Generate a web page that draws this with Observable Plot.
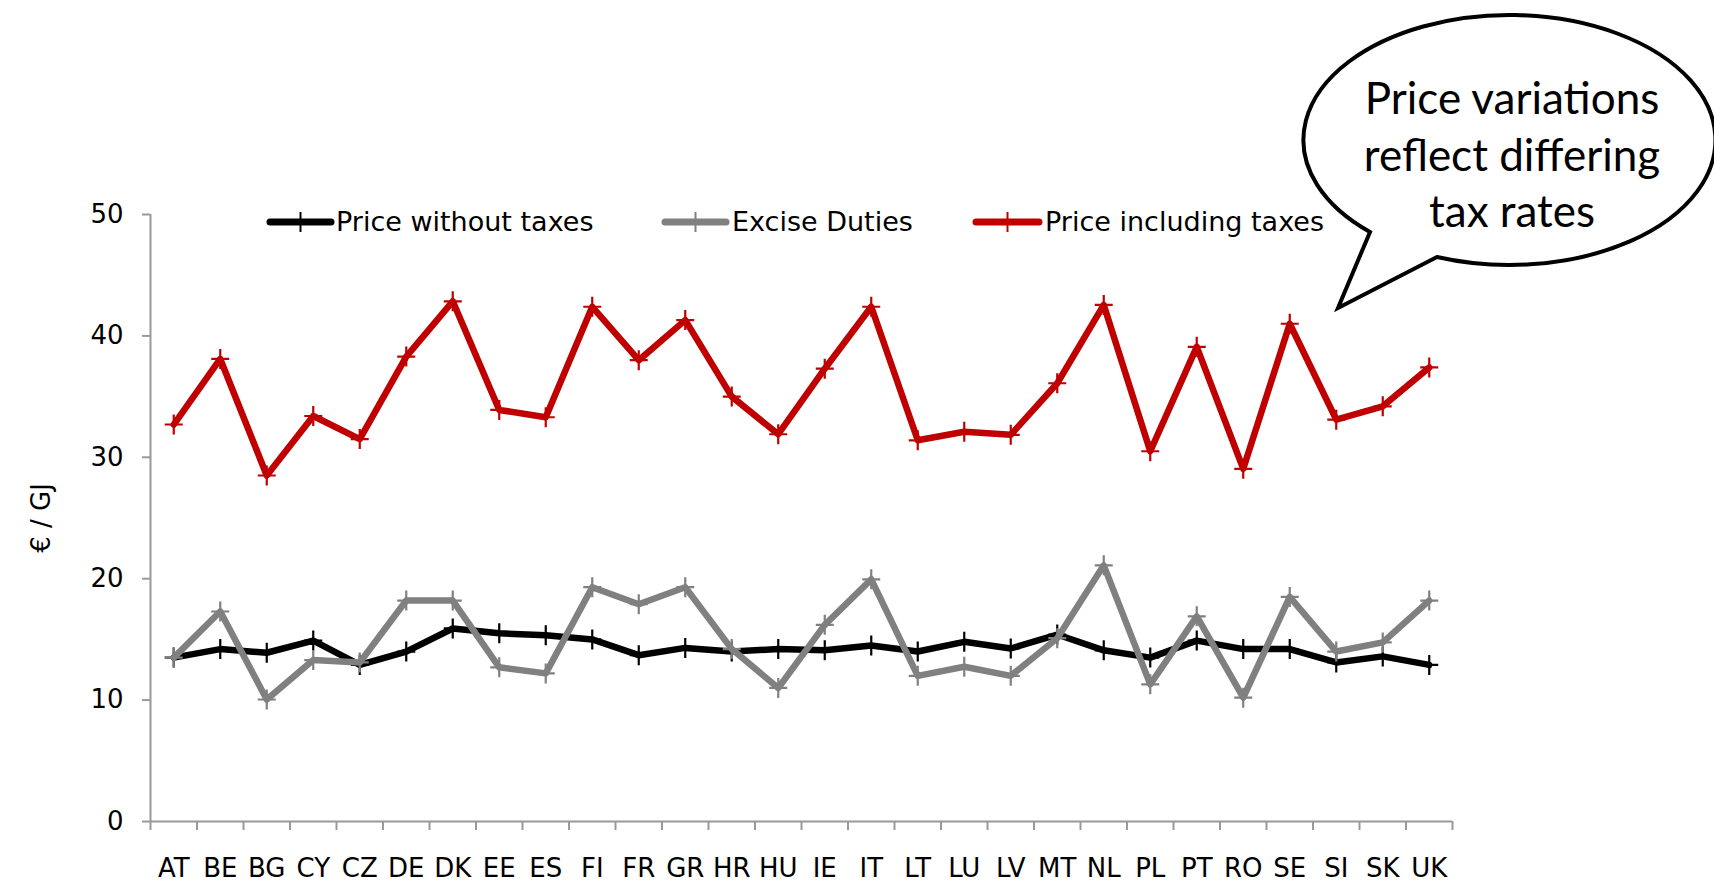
<!DOCTYPE html>
<html>
<head>
<meta charset="utf-8">
<script src="https://cdn.jsdelivr.net/npm/d3@7"></script>
<script src="https://cdn.jsdelivr.net/npm/@observablehq/plot@0.6"></script>
<style>
  html, body { margin: 0; padding: 0; background: #fff; }
  #chart { width: 1714px; height: 882px; overflow: hidden; }
</style>
</head>
<body>
<div id="chart"></div>
<script>
// ---- data ----
const countries = ["AT","BE","BG","CY","CZ","DE","DK","EE","ES","FI","FR","GR","HR","HU","IE","IT","LT","LU","LV","MT","NL","PL","PT","RO","SE","SI","SK","UK"];
const priceWithoutTaxes = [13.5,14.2,13.9,14.9,12.9,14.0,15.9,15.5,15.35,15.0,13.7,14.3,14.0,14.2,14.1,14.5,14.0,14.8,14.25,15.4,14.1,13.5,14.9,14.2,14.2,13.1,13.6,12.9];
const exciseDuties = [13.5,17.3,10.05,13.3,13.1,18.2,18.2,12.7,12.2,19.3,17.9,19.3,14.2,11.0,16.2,19.95,12.0,12.75,12.0,15.1,21.1,11.3,16.9,10.2,18.5,14.0,14.75,18.2];
const priceIncludingTaxes = [32.7,38.1,28.5,33.4,31.5,38.3,42.85,33.9,33.3,42.4,38.0,41.3,35.0,31.9,37.3,42.4,31.4,32.1,31.85,36.1,42.55,30.5,39.1,29.05,41.0,33.1,34.2,37.4];
const seriesNames = ["Price without taxes", "Excise Duties", "Price including taxes"];
const yTickValues = [0, 10, 20, 30, 40, 50];
const yLabel = "€ / GJ";
const bubbleLines = ["Price variations", "reflect differing", "tax rates"];

// ---- build table ----
const seriesValues = [priceWithoutTaxes, exciseDuties, priceIncludingTaxes];
const seriesColors = ["#000000", "#808080", "#C00000"];
const rows = seriesNames.flatMap((name, s) =>
  countries.map((c, i) => ({series: name, country: c, pos: i + 0.5, value: seriesValues[s][i]}))
);
const boundaries = d3.range(0, countries.length + 1);
const centers = countries.map((c, i) => i + 0.5);

const crossSymbol = {
  draw(ctx, size) {
    const r = Math.sqrt(size / Math.PI);
    ctx.moveTo(-r * 0.9, 0); ctx.lineTo(r * 0.9, 0);
    ctx.moveTo(0, -r); ctx.lineTo(0, r);
  }
};

const seriesMarks = seriesNames.flatMap((name, s) => {
  const data = rows.filter(d => d.series === name);
  return [
    Plot.line(data, {x: "pos", y: "value", stroke: seriesColors[s], strokeWidth: 6.5, strokeLinejoin: "round", strokeLinecap: "round"}),
    Plot.dot(data, {x: "pos", y: "value", symbol: crossSymbol, r: 10, stroke: seriesColors[s], fill: "none", strokeWidth: 2.2})
  ];
});

const chart = Plot.plot({
  width: 1714,
  height: 882,
  marginLeft: 150,
  marginRight: 262,
  marginTop: 214,
  marginBottom: 61,
  x: {type: "linear", domain: [0, countries.length]},
  y: {domain: [0, 50]},
  style: {fontFamily: "'DejaVu Sans', sans-serif", fontSize: "26px", color: "#000", background: "#fff"},
  marks: [
    Plot.axisY({ticks: yTickValues, tickSize: 8, tickPadding: 19, stroke: "#999", strokeWidth: 2, fontSize: 26,
      label: yLabel, labelAnchor: "center", labelArrow: "none", labelOffset: 119}),
    Plot.axisX({ticks: boundaries, tickSize: 9, tickFormat: () => "", stroke: "#999", strokeWidth: 2, label: null}),
    Plot.axisX({ticks: centers, tickSize: 0, tickPadding: 37, fontSize: 26, label: null,
      tickFormat: v => countries[Math.floor(v)]}),
    Plot.ruleX([0], {stroke: "#999", strokeWidth: 2}),
    Plot.ruleY([0], {stroke: "#999", strokeWidth: 2}),
    ...seriesMarks
  ]
});

document.getElementById("chart").appendChild(chart);

// ---- legend (decoration) ----
const svg = d3.select(chart);
const legendItems = [
  {x1: 270, x2: 331, tx: 336},
  {x1: 665, x2: 726, tx: 732},
  {x1: 976, x2: 1039, tx: 1045}
];
const lg = svg.append("g").attr("font-family", "'DejaVu Sans', sans-serif").attr("font-size", 27)
  .attr("text-anchor", "start");
legendItems.forEach((it, s) => {
  lg.append("line").attr("x1", it.x1).attr("x2", it.x2).attr("y1", 222).attr("y2", 222)
    .attr("stroke", seriesColors[s]).attr("stroke-width", 7).attr("stroke-linecap", "round");
  const cx = (it.x1 + it.x2) / 2;
  lg.append("line").attr("x1", cx).attr("x2", cx).attr("y1", 212).attr("y2", 232)
    .attr("stroke", seriesColors[s]).attr("stroke-width", 2);
  lg.append("text").attr("x", it.tx).attr("y", 231).attr("fill", "#000")
    .attr("text-anchor", "start").text(seriesNames[s]);
});

// ---- speech bubble (annotation) ----
const bg = svg.append("g");
bg.append("path")
  .attr("d", "M1437,257 L1338,308 L1370,232 A206,125 0 1 1 1437,257 Z")
  .attr("fill", "#fff").attr("stroke", "#000").attr("stroke-width", 4).attr("stroke-linejoin", "miter");
const bt = bg.append("text").attr("font-family", "Lato, 'Open Sans', sans-serif").attr("font-size", 44)
  .attr("text-anchor", "middle").attr("fill", "#000");
bubbleLines.forEach((line, i) => {
  bt.append("tspan").attr("x", 1512).attr("y", 114 + i * 56.5).text(line);
});
</script>
</body>
</html>
